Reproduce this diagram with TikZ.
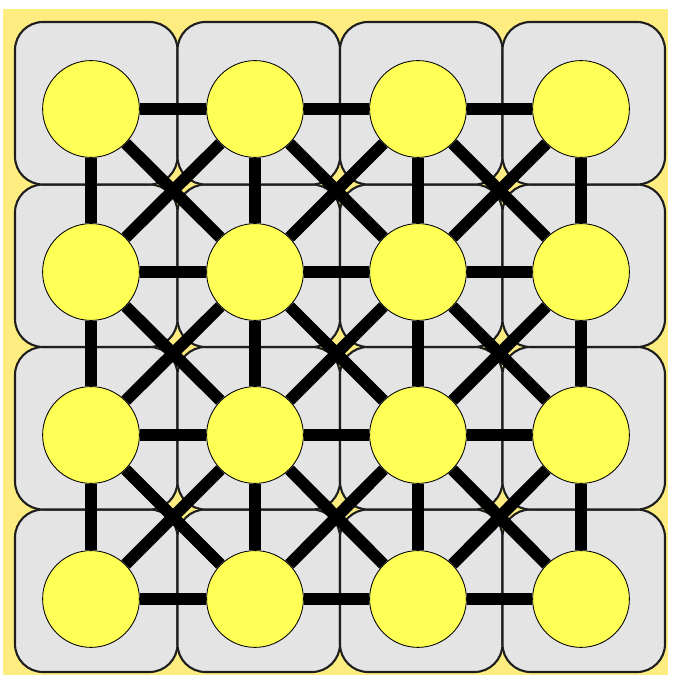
\documentclass[tikz,border=0pt]{standalone}
\usepackage{tikz}
\definecolor{paleyellow}{RGB}{253,236,128}
\definecolor{cellgrey}{RGB}{228,228,228}
\definecolor{cellline}{RGB}{30,30,30}
\definecolor{vertexyellow}{RGB}{255,255,85}
\begin{document}
\begin{tikzpicture}[
        scale=1,
        thick
    ]
    \tikzset{
        cellbox/.style = {draw=cellline, line width=1.5pt, fill=cellgrey, rounded corners=0.7cm},
        vertex/.style = {circle, draw=black, line width=0.6pt, fill=vertexyellow, minimum size=2.42cm, inner sep=0pt},
        edgek/.style = {-, line width=8.5pt, black},
    }
    \useasboundingbox (0,0) rectangle (17.125,17.3);
    \fill[paleyellow] (0.075,0.425) rectangle (16.7,17.075);
    \foreach \x in {0.375,4.4375,8.5,12.5625}
        \foreach \y in {0.5,4.5625,8.625,12.6875}
            \draw[cellbox] (\x,\y) rectangle ++(4.0625,4.0625);
    %
    \node[vertex] at (2.275,14.575) (a1) {};
    \node[vertex] at (6.375,14.575) (a2) {};
    \node[vertex] at (10.45,14.575) (a3) {};
    \node[vertex] at (14.525,14.575) (a4) {};
    \node[vertex] at (2.275,10.5) (b1) {};
    \node[vertex] at (6.375,10.5) (b2) {};
    \node[vertex] at (10.45,10.5) (b3) {};
    \node[vertex] at (14.525,10.5) (b4) {};
    \node[vertex] at (2.275,6.425) (c1) {};
    \node[vertex] at (6.375,6.425) (c2) {};
    \node[vertex] at (10.45,6.425) (c3) {};
    \node[vertex] at (14.525,6.425) (c4) {};
    \node[vertex] at (2.275,2.325) (d1) {};
    \node[vertex] at (6.375,2.325) (d2) {};
    \node[vertex] at (10.45,2.325) (d3) {};
    \node[vertex] at (14.525,2.325) (d4) {};
    %
    \draw[edgek] (a1) edge (a2) (a2) edge (a3) (a3) edge (a4);
    \draw[edgek] (b1) edge (b2) (b2) edge (b3) (b3) edge (b4);
    \draw[edgek] (c1) edge (c2) (c2) edge (c3) (c3) edge (c4);
    \draw[edgek] (d1) edge (d2) (d2) edge (d3) (d3) edge (d4);
    %
    \draw[edgek] (a1) edge (b1) (b1) edge (c1) (c1) edge (d1);
    \draw[edgek] (a2) edge (b2) (b2) edge (c2) (c2) edge (d2);
    \draw[edgek] (a3) edge (b3) (b3) edge (c3) (c3) edge (d3);
    \draw[edgek] (a4) edge (b4) (b4) edge (c4) (c4) edge (d4);
    %
    \draw[edgek] (a1) edge (b2) (a2) edge (b1) (a2) edge (b3) (a3) edge (b2) (a3) edge (b4) (a4) edge (b3);
    \draw[edgek] (b1) edge (c2) (b2) edge (c1) (b2) edge (c3) (b3) edge (c2) (b3) edge (c4) (b4) edge (c3);
    \draw[edgek] (c1) edge (d2) (c2) edge (d1) (c2) edge (d3) (c3) edge (d2) (c3) edge (d4) (c4) edge (d3);
\end{tikzpicture}
\end{document}
